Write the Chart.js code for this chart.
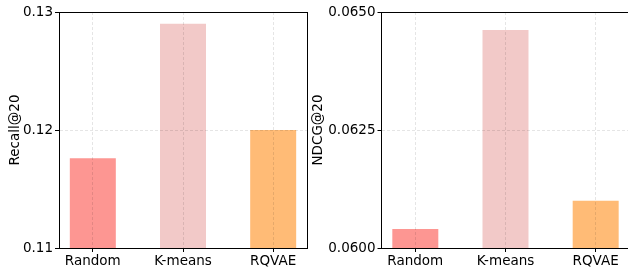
<!DOCTYPE html>
<html>
<head>
<meta charset="utf-8">
<script src="https://cdn.jsdelivr.net/npm/chart.js@4/dist/chart.umd.min.js"></script>
<style>
  html, body { margin: 0; padding: 0; background: #fff; overflow: hidden; }
  #wrap { position: relative; width: 628px; height: 272px; overflow: hidden; }
  #c1 { position: absolute; left: 0; top: 0; }
  #c2 { position: absolute; left: 310px; top: 0; }
</style>
</head>
<body>
<div id="wrap">
  <canvas id="c1" width="310" height="272"></canvas>
  <canvas id="c2" width="320" height="272"></canvas>
</div>
<script>
const categories = ['Random', 'K-means', 'RQVAE'];
const recallValues = [0.1176, 0.1290, 0.1200];
const ndcgValues = [0.0604, 0.06462, 0.0610];
const recallTicks = [0.11, 0.12, 0.13];
const recallTickLabels = ['0.11', '0.12', '0.13'];
const ndcgTicks = [0.0600, 0.0625, 0.0650];
const ndcgTickLabels = ['0.0600', '0.0625', '0.0650'];
const barColors = ['#fd9692', '#f2c9c8', '#ffbb76'];

const FONT = { family: 'DejaVu Sans', size: 13.5 };

const framePlugin = {
  id: 'frame',
  afterDraw(chart) {
    const a = chart.chartArea, ctx = chart.ctx;
    const al = p => Math.round(p - 0.5) + 0.5;
    ctx.save();
    ctx.setLineDash([]);
    ctx.strokeStyle = '#000';
    ctx.lineWidth = 1;
    const l = al(a.left), t = al(a.top), r = al(a.right), b = al(a.bottom);
    ctx.strokeRect(l, t, r - l, b - t);
    ctx.restore();
  }
};

function makeChart(id, values, yTicks, yTickLabels, title, yWidth, padRight, titlePad) {
  const data = values.map((v, i) => ({ x: i, y: v }));
  return new Chart(document.getElementById(id), {
    type: 'bar',
    data: {
      datasets: [{
        data: data,
        backgroundColor: barColors,
        borderWidth: 0,
        categoryPercentage: 1,
        barPercentage: 0.51
      }]
    },
    options: {
      responsive: false,
      animation: false,
      devicePixelRatio: 1,
      layout: { padding: { top: 12, right: padRight, bottom: 0, left: 0 } },
      plugins: { legend: { display: false }, tooltip: { enabled: false } },
      scales: {
        x: {
          type: 'linear',
          offset: false,
          min: -0.375,
          max: 2.375,
          afterBuildTicks: s => { s.ticks = categories.map((c, i) => ({ value: i })); },
          afterFit: s => { s.height = 24; },
          ticks: {
            color: '#000',
            font: FONT,
            padding: 1,
            maxRotation: 0,
            autoSkip: false,
            callback: v => categories[v]
          },
          grid: {
            offset: false,
            color: 'rgba(0,0,0,0.1)',
            z: 1,
            tickColor: '#000',
            tickLength: 4,
            tickWidth: 1
          },
          border: { display: true, color: '#000', width: 1, dash: [3, 2], z: 2 }
        },
        y: {
          type: 'linear',
          min: yTicks[0],
          max: yTicks[yTicks.length - 1],
          afterBuildTicks: s => { s.ticks = yTicks.map(v => ({ value: v })); },
          afterFit: s => { s.width = yWidth; },
          ticks: {
            color: '#000',
            font: FONT,
            padding: 2,
            callback: (v, i) => yTickLabels[i]
          },
          grid: {
            color: 'rgba(0,0,0,0.1)',
            z: 1,
            tickColor: '#000',
            tickLength: 4,
            tickWidth: 1
          },
          border: { display: true, color: '#000', width: 1, dash: [3, 2], z: 2 },
          title: {
            display: true,
            text: title,
            color: '#000',
            font: FONT,
            padding: { top: titlePad, bottom: 0 }
          }
        }
      }
    },
    plugins: [framePlugin]
  });
}

makeChart('c1', recallValues, recallTicks, recallTickLabels, 'Recall@20', 59, 3, 7.7);
makeChart('c2', ndcgValues, ndcgTicks, ndcgTickLabels, 'NDCG@20', 71.5, 0.5, 0.7);
</script>
</body>
</html>
